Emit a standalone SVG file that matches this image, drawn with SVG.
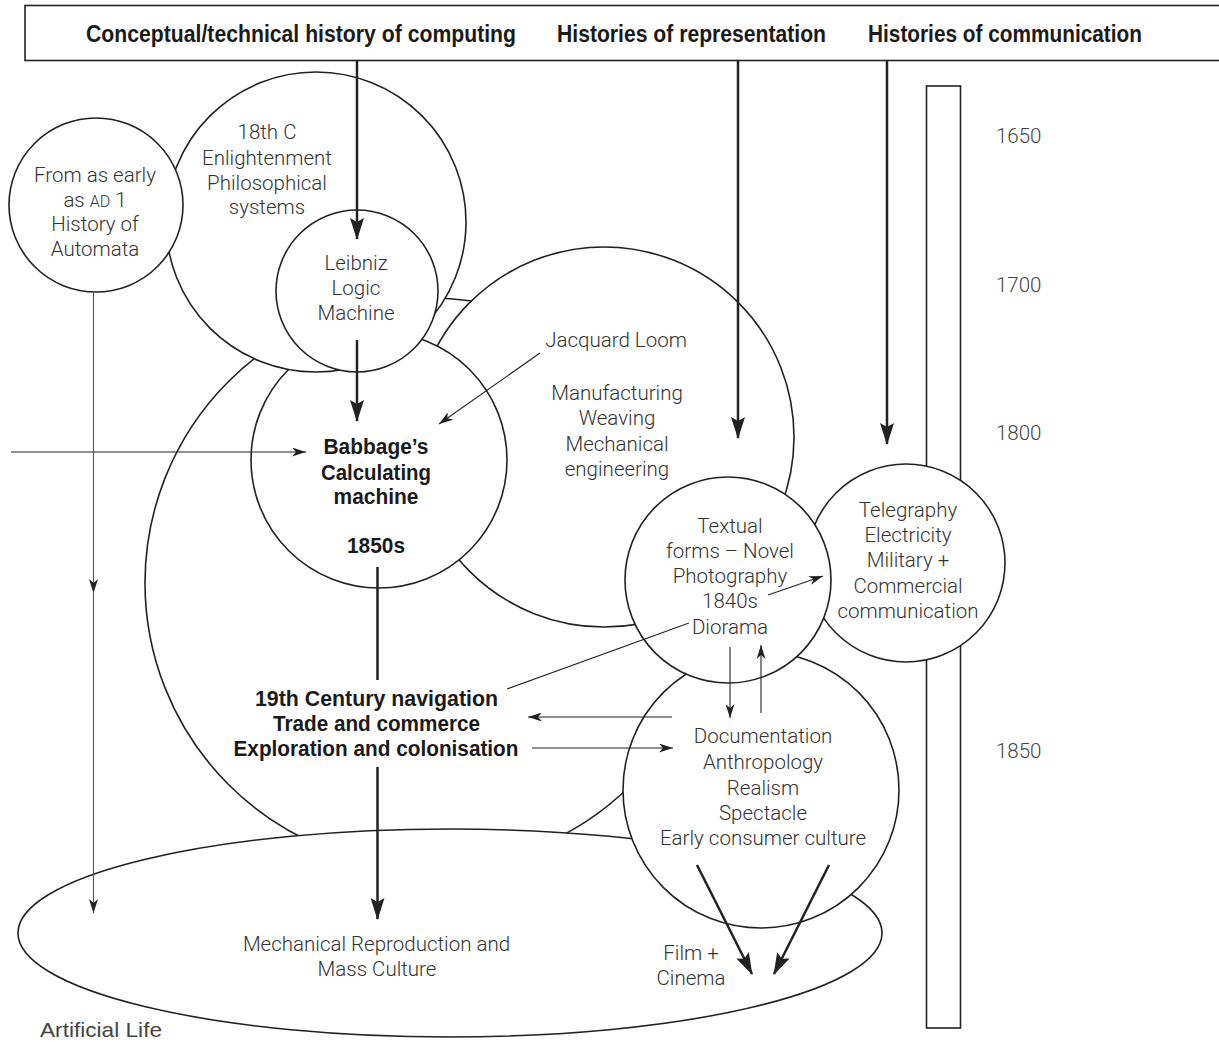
<svg xmlns="http://www.w3.org/2000/svg" width="1219" height="1042" viewBox="0 0 1219 1042">
<style>
.shape{fill:#fff;stroke:#222;stroke-width:1.6}
.t{font-family:Roboto,"Liberation Sans",sans-serif;font-weight:300;font-size:20.5px;fill:#333;text-anchor:middle}
.yr{font-family:Roboto,"Liberation Sans",sans-serif;font-weight:300;font-size:20.5px;fill:#444}
.b{font-family:"Liberation Sans",Arial,sans-serif;font-weight:bold;font-size:22px;fill:#1a1a1a;text-anchor:middle}
.h{font-family:"Liberation Sans",Arial,sans-serif;font-weight:bold;font-size:23px;fill:#1a1a1a}
.al{font-family:"Liberation Sans",Arial,sans-serif;font-size:21px;fill:#444}
.thick{stroke:#222;stroke-width:2.5;fill:none}
.thin{stroke:#222;stroke-width:1.1;fill:none}
.grey{stroke:#555;stroke-width:1.1;fill:none}
</style>
<defs>
<marker id="big" markerUnits="userSpaceOnUse" viewBox="0 0 22 14" markerWidth="22" markerHeight="14" refX="21" refY="7" orient="auto">
<path d="M0,0 L22,7 L0,14 L4,7 Z" fill="#222"/>
</marker>
<marker id="small" markerUnits="userSpaceOnUse" viewBox="0 0 14 9" markerWidth="14" markerHeight="9" refX="14" refY="4.5" orient="auto">
<path d="M0,0 L14,4.5 L0,9 L4,4.5 Z" fill="#222"/>
</marker>
</defs>

<g id="header">
<rect class="shape" x="25" y="5.5" width="1215" height="55"/>
<text class="h" x="86" y="42" textLength="430" lengthAdjust="spacingAndGlyphs">Conceptual/technical history of computing</text>
<text class="h" x="557" y="42" textLength="269" lengthAdjust="spacingAndGlyphs">Histories of representation</text>
<text class="h" x="868" y="42" textLength="274" lengthAdjust="spacingAndGlyphs">Histories of communication</text>
</g>

<g id="timeline">
<rect class="shape" x="926.5" y="86" width="34" height="942"/>
<text class="yr" x="996" y="143">1650</text>
<text class="yr" x="996" y="292">1700</text>
<text class="yr" x="996" y="440">1800</text>
<text class="yr" x="996" y="758">1850</text>
</g>

<g id="navigation">
<circle class="shape" cx="430" cy="583" r="285"/>
<text class="b" x="376.5" y="706" textLength="243" lengthAdjust="spacingAndGlyphs">19th Century navigation</text>
<text class="b" x="376.5" y="731" textLength="207" lengthAdjust="spacingAndGlyphs">Trade and commerce</text>
<text class="b" x="376" y="756" textLength="285" lengthAdjust="spacingAndGlyphs">Exploration and colonisation</text>
</g>

<g id="manufacturing">
<circle class="shape" cx="604" cy="437" r="190"/>
<text class="t" x="616" y="347">Jacquard Loom</text>
<text class="t" x="617" y="400">Manufacturing</text>
<text class="t" x="617" y="425">Weaving</text>
<text class="t" x="617" y="451">Mechanical</text>
<text class="t" x="617" y="476">engineering</text>
</g>

<g id="babbage">
<circle class="shape" cx="379" cy="460" r="128"/>
<text class="b" x="376" y="454" textLength="105" lengthAdjust="spacingAndGlyphs">Babbage’s</text>
<text class="b" x="376" y="480" textLength="110" lengthAdjust="spacingAndGlyphs">Calculating</text>
<text class="b" x="376" y="504" textLength="85" lengthAdjust="spacingAndGlyphs">machine</text>
<text class="b" x="376" y="553" textLength="58" lengthAdjust="spacingAndGlyphs">1850s</text>
</g>

<g id="enlightenment">
<circle class="shape" cx="316" cy="222" r="150"/>
<text class="t" x="267" y="139">18th C</text>
<text class="t" x="267" y="165">Enlightenment</text>
<text class="t" x="267" y="190">Philosophical</text>
<text class="t" x="267" y="214">systems</text>
</g>

<g id="leibniz">
<circle class="shape" cx="357" cy="291" r="81"/>
<text class="t" x="356" y="270">Leibniz</text>
<text class="t" x="356" y="295">Logic</text>
<text class="t" x="356" y="320">Machine</text>
</g>

<g id="automata">
<circle class="shape" cx="96" cy="205" r="87"/>
<text class="t" x="95" y="182">From as early</text>
<text class="t" x="95" y="206.5">as <tspan font-size="16">AD</tspan> 1</text>
<text class="t" x="95" y="231">History of</text>
<text class="t" x="95" y="256">Automata</text>
</g>

<g id="mass-culture">
<ellipse class="shape" cx="450" cy="933" rx="432" ry="104"/>
<text class="t" x="376.5" y="951">Mechanical Reproduction and</text>
<text class="t" x="377" y="976">Mass Culture</text>
<text class="t" x="691" y="960">Film +</text>
<text class="t" x="691" y="985">Cinema</text>
</g>

<g id="documentation">
<circle class="shape" cx="761" cy="790" r="138"/>
<text class="t" x="763" y="743">Documentation</text>
<text class="t" x="763" y="769">Anthropology</text>
<text class="t" x="763" y="795">Realism</text>
<text class="t" x="763" y="820">Spectacle</text>
<text class="t" x="763" y="845">Early consumer culture</text>
</g>

<g id="telegraphy">
<circle class="shape" cx="906" cy="563" r="99"/>
<text class="t" x="908" y="517">Telegraphy</text>
<text class="t" x="908" y="542">Electricity</text>
<text class="t" x="908" y="567">Military +</text>
<text class="t" x="908" y="593">Commercial</text>
<text class="t" x="908" y="618">communication</text>
</g>

<g id="textual">
<circle class="shape" cx="728" cy="580" r="103"/>
<text class="t" x="730" y="533">Textual</text>
<text class="t" x="730" y="558">forms – Novel</text>
<text class="t" x="730" y="583">Photography</text>
<text class="t" x="730" y="608">1840s</text>
<text class="t" x="730" y="634">Diorama</text>
</g>

<text class="al" x="40" y="1037" textLength="122" lengthAdjust="spacingAndGlyphs">Artificial Life</text>

<g id="connectors">
<line class="thick" x1="357" y1="61" x2="357" y2="239" marker-end="url(#big)"/>
<line class="thick" x1="738" y1="61" x2="738" y2="438" marker-end="url(#big)"/>
<line class="thick" x1="887" y1="61" x2="887" y2="444" marker-end="url(#big)"/>
<line class="thick" x1="357" y1="340" x2="357" y2="421" marker-end="url(#big)"/>
<line class="thick" x1="377.5" y1="567" x2="377.5" y2="680"/>
<line class="thick" x1="377.5" y1="767" x2="377.5" y2="919" marker-end="url(#big)"/>
<line class="thick" x1="697" y1="865" x2="752" y2="974" marker-end="url(#big)"/>
<line class="thick" x1="829" y1="865" x2="774" y2="974" marker-end="url(#big)"/>
<line class="thin" x1="11" y1="452" x2="306" y2="452" marker-end="url(#small)"/>
<line class="grey" x1="93.5" y1="292" x2="93.5" y2="593" marker-end="url(#small)"/>
<line class="grey" x1="93.5" y1="593" x2="93.5" y2="913" marker-end="url(#small)"/>
<line class="thin" x1="540" y1="353" x2="439" y2="424" marker-end="url(#small)"/>
<line class="thin" x1="689" y1="623" x2="507" y2="689"/>
<line class="thin" x1="768" y1="595" x2="823" y2="576" marker-end="url(#small)"/>
<line class="thin" x1="672" y1="717" x2="528" y2="717" marker-end="url(#small)"/>
<line class="thin" x1="532" y1="748" x2="673" y2="748" marker-end="url(#small)"/>
<line class="thin" x1="730" y1="647" x2="730" y2="718" marker-end="url(#small)"/>
<line class="thin" x1="761" y1="713" x2="761" y2="645" marker-end="url(#small)"/>
</g>
</svg>
